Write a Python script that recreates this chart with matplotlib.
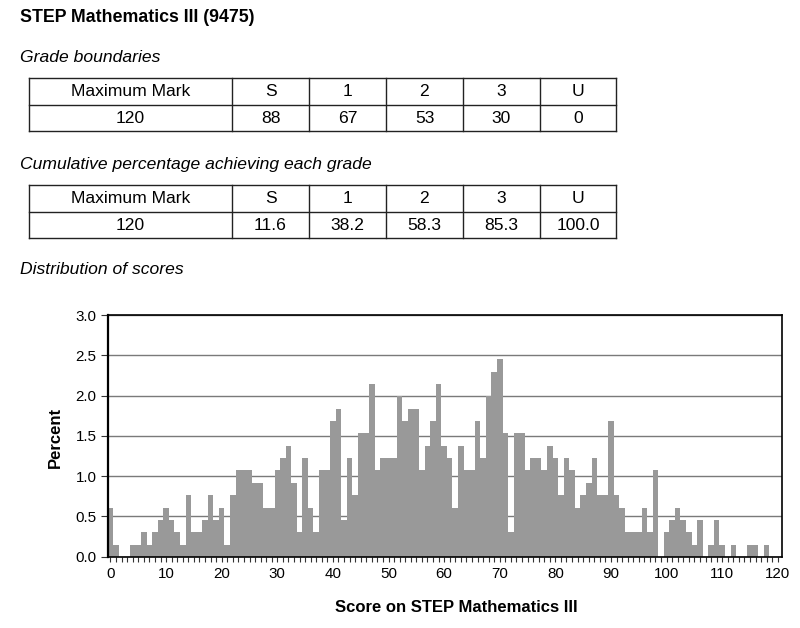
import numpy as np
import matplotlib
matplotlib.use("Agg")
import matplotlib.pyplot as plt

plt.rcParams['font.family'] = ['Liberation Sans', 'DejaVu Sans']

# ---------------- data ----------------
title = "STEP Mathematics III (9475)"
max_mark = 120
grade_labels = ["S", "1", "2", "3", "U"]
grade_boundaries = [88, 67, 53, 30, 0]
cumulative_pct = ["11.6", "38.2", "58.3", "85.3", "100.0"]

scores = list(range(0, 121))
percent = [
    0.61, 0.15, 0.00, 0.00, 0.15, 0.15, 0.31, 0.15, 0.31, 0.46,   # 0-9
    0.61, 0.46, 0.31, 0.15, 0.76, 0.31, 0.31, 0.46, 0.76, 0.46,   # 10-19
    0.61, 0.15, 0.76, 1.07, 1.07, 1.07, 0.92, 0.92, 0.61, 0.61,   # 20-29
    1.07, 1.22, 1.38, 0.92, 0.31, 1.22, 0.61, 0.31, 1.07, 1.07,   # 30-39
    1.68, 1.83, 0.46, 1.22, 0.76, 1.53, 1.53, 2.14, 1.07, 1.22,   # 40-49
    1.22, 1.22, 1.99, 1.68, 1.83, 1.83, 1.07, 1.38, 1.68, 2.14,   # 50-59
    1.38, 1.22, 0.61, 1.38, 1.07, 1.07, 1.68, 1.22, 1.99, 2.29,   # 60-69
    2.45, 1.53, 0.31, 1.53, 1.53, 1.07, 1.22, 1.22, 1.07, 1.38,   # 70-79
    1.22, 0.76, 1.22, 1.07, 0.61, 0.76, 0.92, 1.22, 0.76, 0.76,   # 80-89
    1.68, 0.76, 0.61, 0.31, 0.31, 0.31, 0.61, 0.31, 1.07, 0.00,   # 90-99
    0.31, 0.46, 0.61, 0.46, 0.31, 0.15, 0.46, 0.00, 0.15, 0.46,   # 100-109
    0.15, 0.00, 0.15, 0.00, 0.00, 0.15, 0.15, 0.00, 0.15, 0.00,   # 110-119
    0.00,                                                         # 120
]
y_ticks = [0.0, 0.5, 1.0, 1.5, 2.0, 2.5, 3.0]
x_major = list(range(0, 121, 10))

# ---------------- figure ----------------
W, H = 800, 628
fig = plt.figure(figsize=(W / 100, H / 100), dpi=100)
fig.patch.set_facecolor("white")

bg = fig.add_axes([0, 0, 1, 1])
bg.set_xlim(0, W)
bg.set_ylim(H, 0)
bg.axis("off")

txt = 12.6
bg.text(19.5, 17, title, fontsize=12.8, fontweight="bold", va="center", ha="left")
bg.text(19.5, 58, "Grade boundaries", fontsize=txt, style="italic", va="center", ha="left")
bg.text(19.5, 164, "Cumulative percentage achieving each grade", fontsize=txt,
        style="italic", va="center", ha="left")
bg.text(19.5, 270, "Distribution of scores", fontsize=txt, style="italic",
        va="center", ha="left")

col_edges = [29, 232, 309, 386, 463, 540, 616]


def draw_table(y_top, y_mid, y_bot, row2):
    lc = "#222222"
    for y in (y_top, y_mid, y_bot):
        bg.plot([col_edges[0], col_edges[-1]], [y, y], color=lc, lw=1.0,
                solid_capstyle="projecting")
    for x in col_edges:
        bg.plot([x, x], [y_top, y_bot], color=lc, lw=1.0,
                solid_capstyle="projecting")
    header = ["Maximum Mark"] + grade_labels
    values = [str(max_mark)] + [str(v) for v in row2]
    for i in range(len(header)):
        cx = (col_edges[i] + col_edges[i + 1]) / 2
        bg.text(cx, (y_top + y_mid) / 2 + 0.5, header[i], fontsize=txt,
                ha="center", va="center")
        bg.text(cx, (y_mid + y_bot) / 2 + 0.5, values[i], fontsize=txt,
                ha="center", va="center")


draw_table(78, 104.5, 131, grade_boundaries)
draw_table(185, 211.5, 238, cumulative_pct)

# ---------------- histogram ----------------
left, right, top, bottom = 107.7, 781.7, 315, 556.7
ax = fig.add_axes([left / W, 1 - bottom / H, (right - left) / W, (bottom - top) / H])
ax.bar(scores, percent, width=1.0, color="#999999", linewidth=0, zorder=2)
ax.set_xlim(-0.5, 120.7)
ax.set_ylim(0, 3.0)
ax.set_yticks(y_ticks)
ax.set_yticklabels([f"{v:.1f}" for v in y_ticks], fontsize=10.9)
ax.set_xticks(x_major)
ax.set_xticklabels([str(v) for v in x_major], fontsize=10.9)
ax.set_xticks(scores, minor=True)
ax.yaxis.grid(True, color="#7a7a7a", lw=1.0)
ax.set_axisbelow(True)
ax.tick_params(axis="x", which="both", direction="out", length=3.5, width=0.8,
               color="#333333", pad=4)
ax.tick_params(axis="y", direction="out", length=5, width=0.8, color="#333333", pad=3)
for s in ax.spines.values():
    s.set_color("black")
    s.set_linewidth(1.2)
ax.spines["left"].set_linewidth(1.6)

fig.text(55 / W, 1 - 437 / H, "Percent", rotation=90, fontsize=12, fontweight="bold",
         ha="center", va="center")
fig.text(456 / W, 1 - 607 / H, "Score on STEP Mathematics III", fontsize=12,
         fontweight="bold", ha="center", va="center")

fig.savefig("out.png", dpi=100, facecolor="white")
